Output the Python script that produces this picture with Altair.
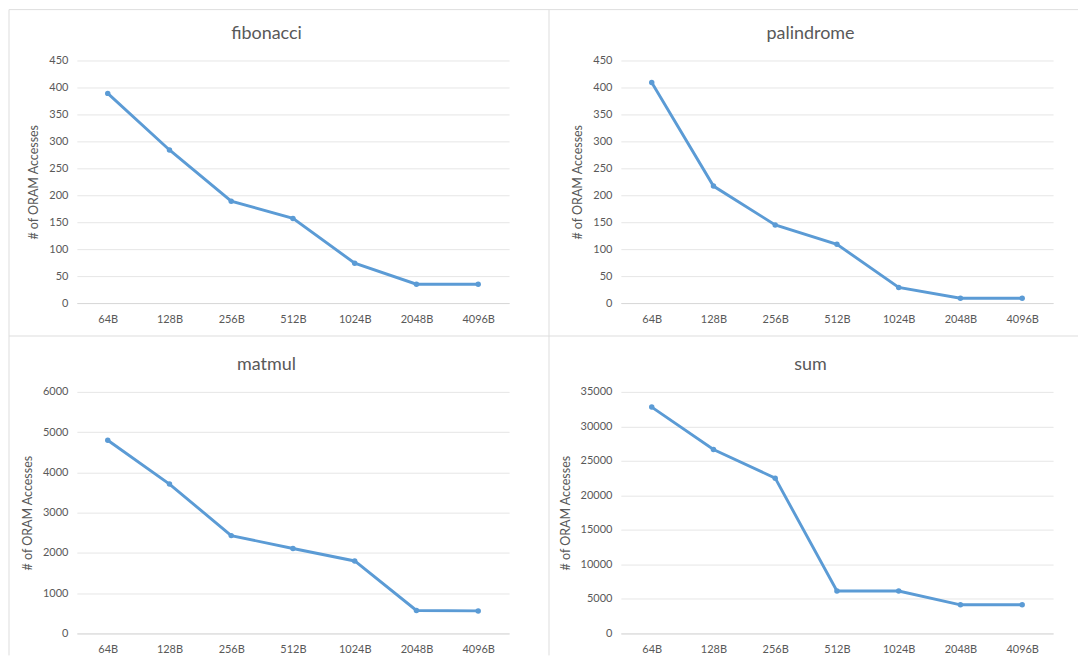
import altair as alt
import pandas as pd

sizes = ["64B", "128B", "256B", "512B", "1024B", "2048B", "4096B"]

fibonacci = [389, 284, 189, 157, 74, 35, 35]
palindrome = [409, 217, 145, 109, 29, 9, 9]
matmul = [4800, 3710, 2430, 2110, 1800, 570, 560]
sum_vals = [32800, 26650, 22500, 6150, 6150, 4150, 4150]

ticks_small = [0, 50, 100, 150, 200, 250, 300, 350, 400, 450]
ticks_matmul = [0, 1000, 2000, 3000, 4000, 5000, 6000]
ticks_sum = [0, 5000, 10000, 15000, 20000, 25000, 30000, 35000]

titles = ["fibonacci", "palindrome", "matmul", "sum"]

LINE = "#5B9BD5"
TEXT = "#595959"
FONT = "Lato"
BORDER = "#dedede"

ONE = pd.DataFrame({"k": [0]})


def vrule(x, y1, y2):
    return alt.Chart(ONE).mark_rule(color=BORDER, strokeWidth=1).encode(
        x=alt.value(x), y=alt.value(y1), y2=alt.value(y2)
    )


def hrule(y, x1, x2):
    return alt.Chart(ONE).mark_rule(color=BORDER, strokeWidth=1).encode(
        y=alt.value(y), x=alt.value(x1), x2=alt.value(x2)
    )


def panel(title, vals, ticks, width, height, extra=None):
    df = pd.DataFrame({"size": sizes, "value": vals})
    base = alt.Chart(df).encode(
        x=alt.X(
            "size:N",
            sort=sizes,
            title=None,
            axis=alt.Axis(
                labelAngle=0,
                grid=False,
                ticks=False,
                domainColor="#d9d9d9",
                labelPadding=10,
            ),
        ),
        y=alt.Y(
            "value:Q",
            scale=alt.Scale(domain=[ticks[0], ticks[-1]], nice=False),
            axis=alt.Axis(
                values=ticks,
                format="d",
                title="# of ORAM Accesses",
                domain=False,
                ticks=False,
                gridColor="#e6e6e6",
                labelPadding=9,
                titlePadding=8,
            ),
        ),
    )
    line = base.mark_line(color=LINE, strokeWidth=2.9)
    pts = base.mark_point(filled=True, size=30, opacity=1, color=LINE)
    ttl = alt.Chart(ONE).mark_text(
        font=FONT, fontSize=18, color=TEXT, align="center", baseline="alphabetic"
    ).encode(x=alt.value(190), y=alt.value(-22), text=alt.value(title))
    layers = [line, pts, ttl]
    if extra:
        layers += extra
    return alt.layer(*layers).properties(width=width, height=height)


borders = [
    vrule(-68, -51, 596),   # left edge
    hrule(-51, -68, 1003),  # top edge
    vrule(473, -51, 596),   # vertical divider
    hrule(276, -68, 1003),  # horizontal divider
]

tl = panel(titles[0], fibonacci, ticks_small, 433, 243, extra=borders)
tr = panel(titles[1], palindrome, ticks_small, 433, 243)
bl = panel(titles[2], matmul, ticks_matmul, 433, 242)
br = panel(titles[3], sum_vals, ticks_sum, 433, 242)

chart = (
    alt.concat(
        tl, tr, bl, br,
        columns=2,
        spacing=alt.RowColnumber(row=89, column=112),
        bounds="flush",
    )
    .properties(padding=0, background="white")
    .configure_view(stroke=None)
    .configure_axis(
        labelFont=FONT,
        labelFontSize=11,
        labelColor=TEXT,
        titleFont=FONT,
        titleFontSize=12.5,
        titleColor=TEXT,
        titleFontWeight="normal",
    )
)

chart.save("out.html", embed_options={"renderer": "svg", "actions": False})
